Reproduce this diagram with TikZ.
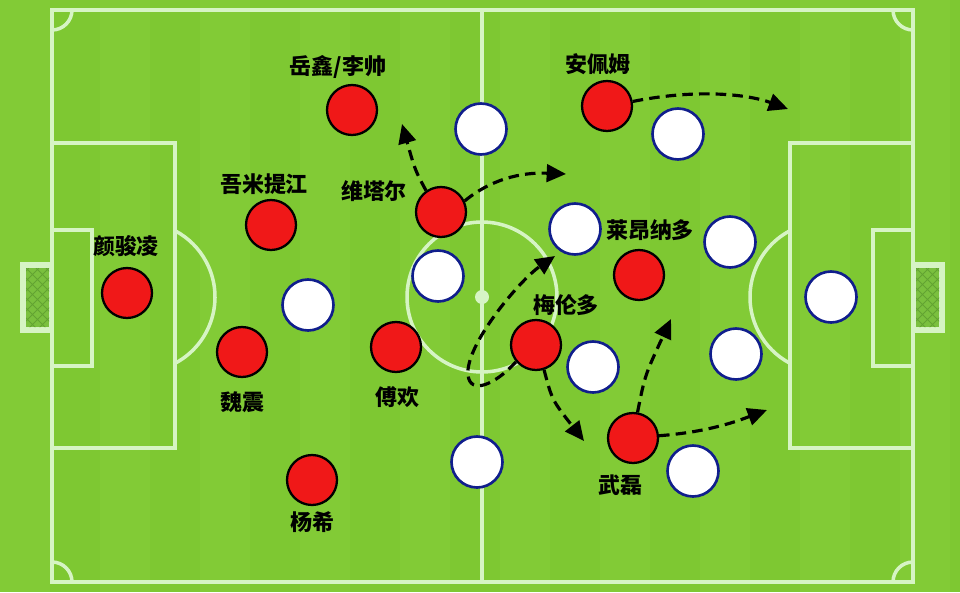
\documentclass[tikz,border=0pt]{standalone}
\usepackage{fontspec}
\newfontfamily\cjk{Noto Sans CJK SC}
\usetikzlibrary{arrows.meta}
\definecolor{grass}{RGB}{126,200,50}
\definecolor{grasslight}{RGB}{130,203,54}
\definecolor{chalk}{RGB}{214,244,196}
\definecolor{netgreen}{RGB}{122,192,62}
\definecolor{netline}{RGB}{98,162,50}
\definecolor{kitred}{RGB}{240,24,24}
\definecolor{kitblue}{RGB}{16,30,140}

\begin{document}
\begin{tikzpicture}[x=0.02cm, y=-0.02cm,
  pline/.style = {draw=chalk, line width=2pt},
  redp/.style = {circle, draw=black, line width=1.3pt, fill=kitred, minimum size=1cm, inner sep=0pt},
  whitep/.style = {circle, draw=kitblue, line width=1.5pt, fill=white, minimum size=1.02cm, inner sep=0pt},
  pname/.style = {font=\cjk\bfseries\fontsize{12.5}{14}\selectfont, inner sep=0pt},
  run/.style = {draw=black, line width=1.8pt, dash pattern=on 6pt off 3.5pt, -{Triangle[length=11pt,width=10pt]}}]

\fill[grass] (0, 0) rectangle (960, 592);
\foreach \i in {0, 2, ..., 18} \fill[grasslight] (\i*50, 0) rectangle ++(50, 592);

\fill[chalk] (20, 262) rectangle (52, 333);
\fill[netgreen] (26, 268) rectangle (49, 327);
\fill[chalk] (913, 262) rectangle (945, 333);
\fill[netgreen] (916, 268) rectangle (939, 327);
\begin{scope}
  \clip (26, 268) rectangle (49, 327) (916, 268) rectangle (939, 327);
  \foreach \k in {-80, -70, ..., 80} {
    \draw[netline, line width=0.5pt] (26+\k, 268) -- (106+\k, 348);
    \draw[netline, line width=0.5pt] (49+\k, 268) -- (-31+\k, 348);
    \draw[netline, line width=0.5pt] (916+\k, 268) -- (996+\k, 348);
    \draw[netline, line width=0.5pt] (939+\k, 268) -- (859+\k, 348);
  }
\end{scope}

\draw[pline] (52, 10) rectangle (913, 582);
\draw[pline] (482, 10) -- (482, 582);
\draw[pline] (482, 297) circle (1.5cm);
\fill[chalk] (482, 297) circle (0.14cm);
\draw[pline] (52, 143) rectangle (175, 448);
\draw[pline] (790, 143) rectangle (913, 448);
\draw[pline] (52, 230) rectangle (92, 366);
\draw[pline] (873, 230) rectangle (913, 366);
\draw[pline] ([shift={(-62:1.5cm)}]140, 297) arc[start angle=-62, end angle=62, radius=1.5cm];
\draw[pline] ([shift={(118:1.5cm)}]825, 297) arc[start angle=118, end angle=242, radius=1.5cm];
\draw[pline] ([shift={(0:0.4cm)}]52, 10) arc[start angle=0, end angle=-90, radius=0.4cm];
\draw[pline] ([shift={(180:0.4cm)}]913, 10) arc[start angle=180, end angle=270, radius=0.4cm];
\draw[pline] ([shift={(0:0.4cm)}]52, 582) arc[start angle=0, end angle=90, radius=0.4cm];
\draw[pline] ([shift={(90:0.4cm)}]913, 582) arc[start angle=90, end angle=180, radius=0.4cm];

\node[whitep] (opp1) at (308, 305) {};
\node[whitep] (opp2) at (438, 276) {};
\node[whitep] (opp3) at (481, 129) {};
\node[whitep] (opp4) at (678, 134) {};
\node[whitep] (opp5) at (575, 229) {};
\node[whitep] (opp6) at (730, 242) {};
\node[whitep] (opp7) at (831, 297) {};
\node[whitep] (opp8) at (593, 367) {};
\node[whitep] (opp9) at (736, 354) {};
\node[whitep] (opp10) at (477, 462) {};
\node[whitep] (opp11) at (693, 471) {};

\node[redp] (yan) at (127, 293) {};
\node[redp] (wumi) at (271, 225) {};
\node[redp] (wei) at (242, 352) {};
\node[redp] (yang) at (312, 480) {};
\node[redp] (fu) at (396, 347) {};
\node[redp] (yue) at (352, 110) {};
\node[redp] (vit) at (441, 212) {};
\node[redp] (anp) at (607, 106) {};
\node[redp] (leo) at (639, 275) {};
\node[redp] (mel) at (536, 345) {};
\node[redp] (wul) at (633, 438) {};

\node[pname] (yan-t) at (126, 246) {颜骏凌};
\node[pname] (wumi-t) at (264, 184) {吾米提江};
\node[pname] (wei-t) at (242, 402) {魏震};
\node[pname] (yang-t) at (312, 522) {杨希};
\node[pname] (fu-t) at (397, 397) {傅欢};
\node[pname] (yue-t) at (338, 67) {岳鑫/李帅};
\node[pname] (vit-t) at (374, 191) {维塔尔};
\node[pname] (anp-t) at (598, 64) {安佩姆};
\node[pname] (leo-t) at (650, 230) {莱昂纳多};
\node[pname] (mel-t) at (566, 305) {梅伦多};
\node[pname] (wul-t) at (620, 485) {武磊};

\coordinate (t1) at (402, 124);
\coordinate (t2) at (566, 174);
\coordinate (t3) at (788, 109);
\coordinate (t4) at (555, 256);
\coordinate (t5) at (584, 441);
\coordinate (t6) at (671, 319);
\coordinate (t7) at (767, 410);

\draw[run] (vit.125) .. controls (415, 170) .. (t1);
\draw[run] (vit.25) .. controls (490, 180) and (520, 172) .. (t2);
\draw[run] (anp.10) .. controls (700, 88) and (750, 95) .. (t3);
\draw[run] (mel.220) .. controls (495, 385) and (470, 395) .. (468, 375) .. controls (465, 345) and (520, 280) .. (t4);
\draw[run] (mel.-72) .. controls (552, 400) .. (t5);
\draw[run] (wul.80) .. controls (645, 375) .. (t6);
\draw[run] (wul.5) .. controls (710, 432) and (740, 420) .. (t7);

\end{tikzpicture}
\end{document}
